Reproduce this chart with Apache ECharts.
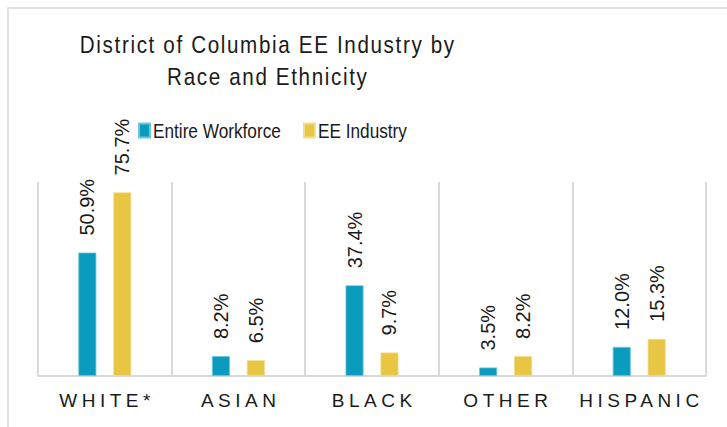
<!DOCTYPE html>
<html>
<head>
<meta charset="utf-8">
<script src="https://cdn.jsdelivr.net/npm/echarts@6/dist/echarts.min.js"></script>
<style>
  html, body { margin: 0; padding: 0; background: #fff; }
  #chart { width: 727px; height: 427px; }
</style>
</head>
<body>
<div id="chart"></div>
<script>
const categories = ['WHITE*', 'ASIAN', 'BLACK', 'OTHER', 'HISPANIC']
const seriesNames = ['Entire Workforce', 'EE Industry']
const entireWorkforce = [50.9, 8.2, 37.4, 3.5, 12.0]
const eeIndustry = [75.7, 6.5, 9.7, 8.2, 15.3]
const titleLines = ['District of Columbia EE Industry by', 'Race and Ethnicity']

const chart = echarts.init(document.getElementById('chart'), null, { renderer: 'svg' })

const labelStyle = {
  show: true,
  position: 'top',
  distance: 17,
  rotate: 90,
  align: 'left',
  verticalAlign: 'middle',
  fontFamily: "'Liberation Sans', Arial, sans-serif",
  fontSize: 20,
  color: '#1a1a1a',
  formatter: p => p.value.toFixed(1) + '%'
}

chart.setOption({
  animation: false,
  backgroundColor: '#fff',
  graphic: [{
    type: 'rect',
    z: -10,
    shape: { x: 8, y: 8, width: 800, height: 500 },
    style: { fill: 'none', stroke: '#d9d9d9', lineWidth: 1.5 }
  }],
  title: {
    text: titleLines.join('\n'),
    left: 267,
    top: 29,
    padding: 0,
    textAlign: 'center',
    textStyle: {
      fontFamily: "'Liberation Sans', Arial, sans-serif",
      fontSize: 24,
      fontWeight: 'normal',
      color: '#1a1a1a',
      lineHeight: 32
    }
  },
  legend: {
    left: 138,
    top: 120,
    padding: 0,
    itemWidth: 11,
    itemHeight: 14,
    itemGap: -6,
    icon: 'rect',
    textStyle: {
      fontFamily: "'Liberation Sans', Arial, sans-serif",
      fontSize: 21,
      color: '#1a1a1a',
      padding: [0, 0, 0, -2]
    },
    data: seriesNames
  },
  grid: { left: 38, right: 21, top: 182, bottom: 51 },
  xAxis: {
    type: 'category',
    data: categories,
    axisLine: { lineStyle: { color: '#d9d9d9', width: 2 } },
    axisTick: { show: false },
    splitLine: { show: true, lineStyle: { color: '#d9d9d9', width: 2 } },
    axisLabel: {
      margin: 15,
      fontFamily: "'Liberation Sans', Arial, sans-serif",
      fontSize: 19,
      color: '#1a1a1a'
    }
  },
  yAxis: {
    type: 'value',
    min: 0,
    max: 80,
    show: false,
    splitLine: { show: false }
  },
  series: [
    {
      name: seriesNames[0],
      type: 'bar',
      data: entireWorkforce,
      barWidth: 18,
      barGap: '94%',
      itemStyle: { color: '#0a9bbf', borderColor: '#6cc7dd', borderWidth: 0.8 },
      label: labelStyle
    },
    {
      name: seriesNames[1],
      type: 'bar',
      data: eeIndustry,
      barWidth: 18,
      itemStyle: { color: '#e8c542', borderColor: '#f3dc8c', borderWidth: 0.8 },
      label: labelStyle
    }
  ]
})

// narrow a text element horizontally around its anchor point
function squeeze(t, k) {
  const src = t.hasAttribute('x') ? t : (t.querySelector('tspan') || t)
  const x = parseFloat(src.getAttribute('x') || 0)
  const y = parseFloat(src.getAttribute('y') || 0)
  if (!t.hasAttribute('data-base')) t.setAttribute('data-base', t.getAttribute('transform') || '')
  const base = t.getAttribute('data-base')
  t.setAttribute('transform', `${base} translate(${x} ${y}) scale(${k} 1) translate(${-x} ${-y})`)
}

// spaced-out axis labels, narrow title and legend text, as in the original
function adjustText() {
  document.querySelectorAll('#chart text').forEach(t => {
    const s = t.textContent.trim()
    if (categories.includes(s)) {
      t.style.letterSpacing = '4.5px'
      t.setAttribute('dx', '2.25')
    } else if (seriesNames.includes(s)) {
      squeeze(t, 0.82)
    } else if (titleLines.some(l => s.includes(l))) {
      t.style.letterSpacing = '1.9px'
      t.setAttribute('dx', '0.95')
      squeeze(t, 0.86)
    }
  })
}
adjustText()
setTimeout(adjustText, 0)
chart.on('finished', adjustText)
</script>
</body>
</html>
